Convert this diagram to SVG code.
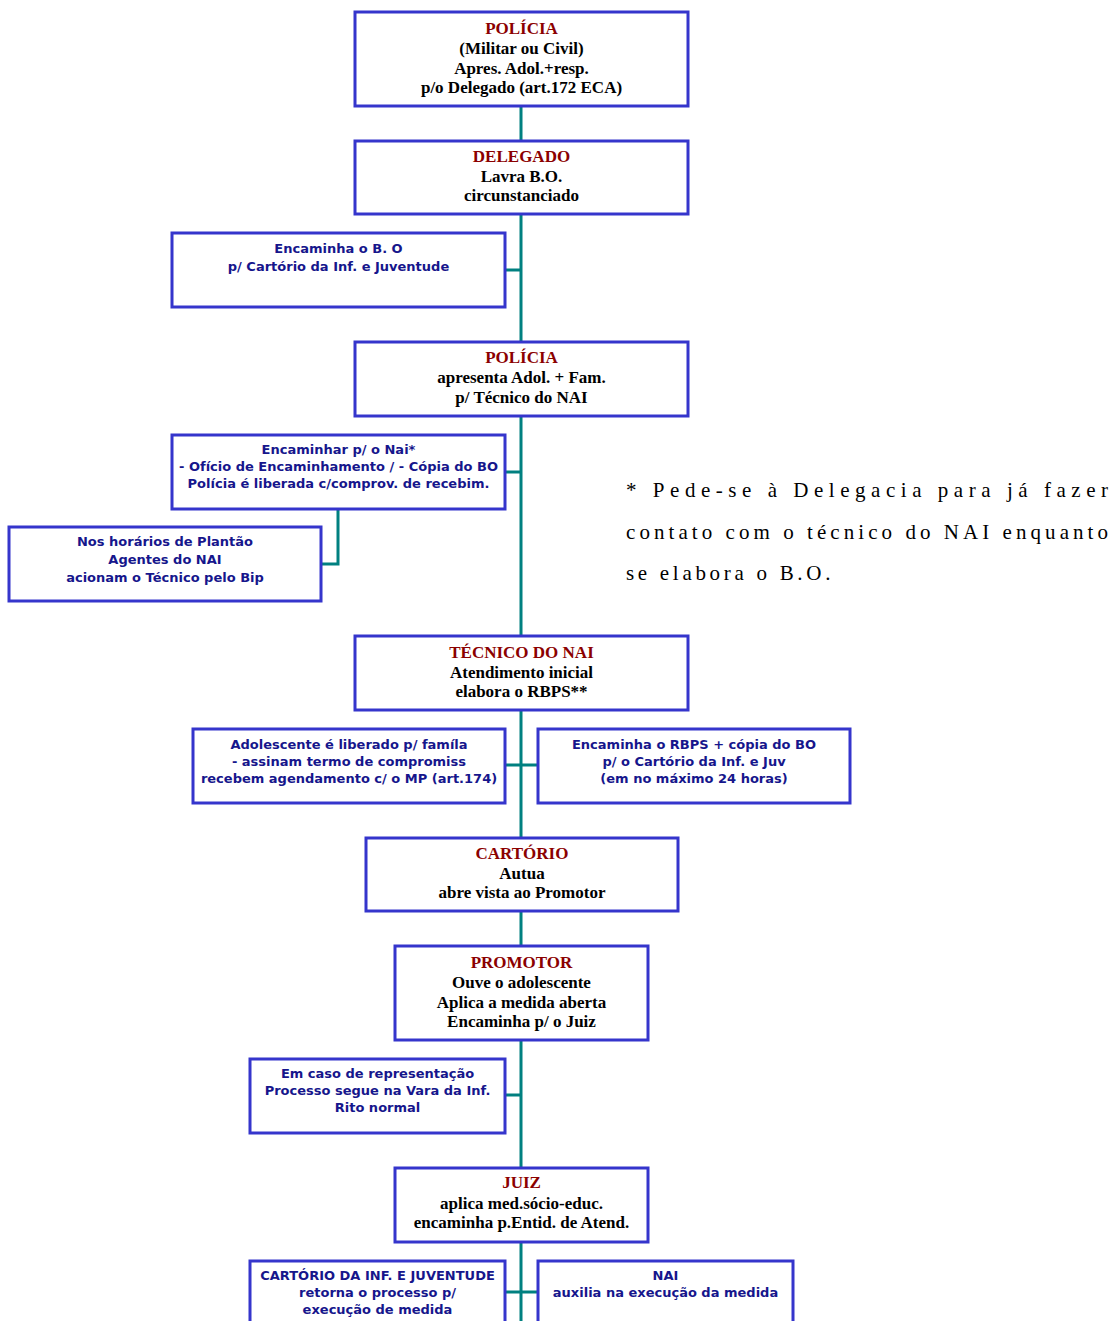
<svg xmlns="http://www.w3.org/2000/svg" width="1112" height="1321" viewBox="0 0 1112 1321">
<style>
.box{fill:#fff;stroke:#3535cc;stroke-width:3}
.con{fill:none;stroke:#008080;stroke-width:3}
.t{font-family:"Liberation Serif","Times New Roman",serif;font-weight:bold;font-size:17px;text-anchor:middle;fill:#000}
.h{fill:#8b0000}
.s{font-family:"DejaVu Sans",Verdana,sans-serif;font-weight:bold;font-size:13px;text-anchor:middle;fill:#16168c}
.n{font-family:"Liberation Serif","Times New Roman",serif;font-size:21px;fill:#000}
</style>
<rect width="1112" height="1321" fill="#fff"/>
<g id="connectors">
<line class="con" x1="521" y1="106" x2="521" y2="1321"/>
<line class="con" x1="505" y1="270" x2="521" y2="270"/>
<line class="con" x1="505" y1="472" x2="521" y2="472"/>
<polyline class="con" points="338,509 338,564 321,564"/>
<line class="con" x1="505" y1="765" x2="538" y2="765"/>
<line class="con" x1="505" y1="1095" x2="521" y2="1095"/>
<line class="con" x1="505" y1="1292" x2="538" y2="1292"/>
</g>
<g id="policia1">
<rect class="box" x="355" y="12" width="333" height="94"/>
<text class="t h" x="521.5" y="34">POLÍCIA</text>
<text class="t" x="521.5" y="54">(Militar ou Civil)</text>
<text class="t" x="521.5" y="73.5">Apres. Adol.+resp.</text>
<text class="t" x="521.5" y="93">p/o Delegado (art.172 ECA)</text>
</g>
<g id="delegado">
<rect class="box" x="355" y="141" width="333" height="73"/>
<text class="t h" x="521.5" y="162">DELEGADO</text>
<text class="t" x="521.5" y="182">Lavra B.O.</text>
<text class="t" x="521.5" y="201">circunstanciado</text>
</g>
<g id="encaminha-bo">
<rect class="box" x="172" y="233" width="333" height="74"/>
<text class="s" x="338.5" y="253">Encaminha o B. O</text>
<text class="s" x="338.5" y="271">p/ Cartório da Inf. e Juventude</text>
</g>
<g id="policia2">
<rect class="box" x="355" y="342" width="333" height="74"/>
<text class="t h" x="521.5" y="363">POLÍCIA</text>
<text class="t" x="521.5" y="383">apresenta Adol. + Fam.</text>
<text class="t" x="521.5" y="403">p/ Técnico do NAI</text>
</g>
<g id="encaminhar-nai">
<rect class="box" x="172" y="435" width="333" height="74"/>
<text class="s" x="338.5" y="454">Encaminhar p/ o Nai*</text>
<text class="s" x="338.5" y="471">- Ofício de Encaminhamento / - Cópia do BO</text>
<text class="s" x="338.5" y="488">Polícia é liberada c/comprov. de recebim.</text>
</g>
<g id="plantao">
<rect class="box" x="9" y="527" width="312" height="74"/>
<text class="s" x="165" y="546">Nos horários de Plantão</text>
<text class="s" x="165" y="564">Agentes do NAI</text>
<text class="s" x="165" y="582">acionam o Técnico pelo Bip</text>
</g>
<g id="nota">
<text class="n" x="626" y="497" textLength="482" lengthAdjust="spacing">* Pede-se à Delegacia para já fazer</text>
<text class="n" x="626" y="539" textLength="482" lengthAdjust="spacing">contato com o técnico do NAI enquanto</text>
<text class="n" x="626" y="580" letter-spacing="3.7">se elabora o B.O.</text>
</g>
<g id="tecnico">
<rect class="box" x="355" y="636" width="333" height="74"/>
<text class="t h" x="521.5" y="658">TÉCNICO DO NAI</text>
<text class="t" x="521.5" y="678">Atendimento inicial</text>
<text class="t" x="521.5" y="697">elabora o RBPS**</text>
</g>
<g id="adolescente">
<rect class="box" x="193" y="729" width="312" height="74"/>
<text class="s" x="349" y="749">Adolescente é liberado p/ famíla</text>
<text class="s" x="349" y="766">- assinam termo de compromiss</text>
<text class="s" x="349" y="783">recebem agendamento c/ o MP (art.174)</text>
</g>
<g id="encaminha-rbps">
<rect class="box" x="538" y="729" width="312" height="74"/>
<text class="s" x="694" y="749">Encaminha o RBPS + cópia do BO</text>
<text class="s" x="694" y="766">p/ o Cartório da Inf. e Juv</text>
<text class="s" x="694" y="783">(em no máximo 24 horas)</text>
</g>
<g id="cartorio">
<rect class="box" x="366" y="838" width="312" height="73"/>
<text class="t h" x="522" y="859">CARTÓRIO</text>
<text class="t" x="522" y="879">Autua</text>
<text class="t" x="522" y="898">abre vista ao Promotor</text>
</g>
<g id="promotor">
<rect class="box" x="395" y="946" width="253" height="94"/>
<text class="t h" x="521.5" y="968">PROMOTOR</text>
<text class="t" x="521.5" y="988">Ouve o adolescente</text>
<text class="t" x="521.5" y="1008">Aplica a medida aberta</text>
<text class="t" x="521.5" y="1027">Encaminha p/ o Juiz</text>
</g>
<g id="representacao">
<rect class="box" x="250" y="1059" width="255" height="74"/>
<text class="s" x="377.5" y="1078">Em caso de representação</text>
<text class="s" x="377.5" y="1095">Processo segue na Vara da Inf.</text>
<text class="s" x="377.5" y="1112">Rito normal</text>
</g>
<g id="juiz">
<rect class="box" x="395" y="1168" width="253" height="74"/>
<text class="t h" x="521.5" y="1188">JUIZ</text>
<text class="t" x="521.5" y="1209">aplica med.sócio-educ.</text>
<text class="t" x="521.5" y="1228">encaminha p.Entid. de Atend.</text>
</g>
<g id="cartorio-inf">
<rect class="box" x="250" y="1261" width="255" height="74"/>
<text class="s" x="377.5" y="1280">CARTÓRIO DA INF. E JUVENTUDE</text>
<text class="s" x="377.5" y="1297">retorna o processo p/</text>
<text class="s" x="377.5" y="1314">execução de medida</text>
</g>
<g id="nai">
<rect class="box" x="538" y="1261" width="255" height="74"/>
<text class="s" x="665.5" y="1280">NAI</text>
<text class="s" x="665.5" y="1297">auxilia na execução da medida</text>
</g>
</svg>
